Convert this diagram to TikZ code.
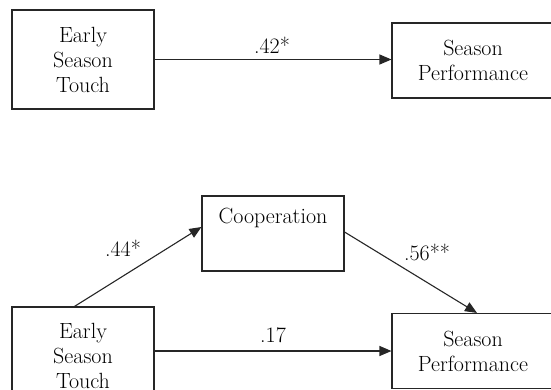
\documentclass[tikz,border=0pt]{standalone}
\usetikzlibrary{arrows.meta,calc}
\begin{document}
\begin{tikzpicture}[x=1pt,y=-1pt,
  box/.style={draw=black!85,line width=1.1pt,rectangle,inner sep=0pt,align=center,
    font=\rmfamily\fontsize{22}{25}\selectfont},
  txt/.style={inner sep=0pt,font=\rmfamily\fontsize{22}{25}\selectfont},
  lab/.style={inner sep=0pt,font=\rmfamily\fontsize{22}{25}\selectfont},
  arr/.style={draw=black!85,line width=1.1pt,-{Triangle[length=12pt,width=10pt]}}]
\useasboundingbox (0,0) rectangle (551,389);
\clip (0,0) rectangle (551,389);
% top model
\node[box,minimum width=142pt,minimum height=99pt] (e1) at (83,59.5) {Early\\Season\\Touch};
\node[box,minimum width=162pt,minimum height=75pt] (sp1) at (473,60.5) {Season\\Performance};
\draw[arr] (e1.east) -- (e1.east -| sp1.west);
\node[lab] (l1) at (272,45) {.42*};
% bottom model
\node[box,minimum width=142pt,minimum height=75pt] (coop) at (273,233.5) {};
\node[txt] (cooptxt) at (273,218) {Cooperation};
\node[box,minimum width=142pt,minimum height=98pt] (e2) at (83,356) {Early\\Season\\Touch};
\node[box,minimum width=162pt,minimum height=75pt] (sp2) at (473,351) {Season\\Performance};
\draw[arr] (sp2.west -| e2.east) -- (sp2.west);
\draw[arr] ($(e2.north west)+(63,0)$) -- ($(coop.west)+(0,-6.5)$);
\draw[arr] ($(coop.east)+(0,-1.5)$) -- ($(sp2.north)+(4,0)$);
\node[lab] (l2) at (273,335) {.17};
\node[lab] (l3) at (123,248) {.44*};
\node[lab] (l4) at (427,252) {.56**};
\end{tikzpicture}
\end{document}
